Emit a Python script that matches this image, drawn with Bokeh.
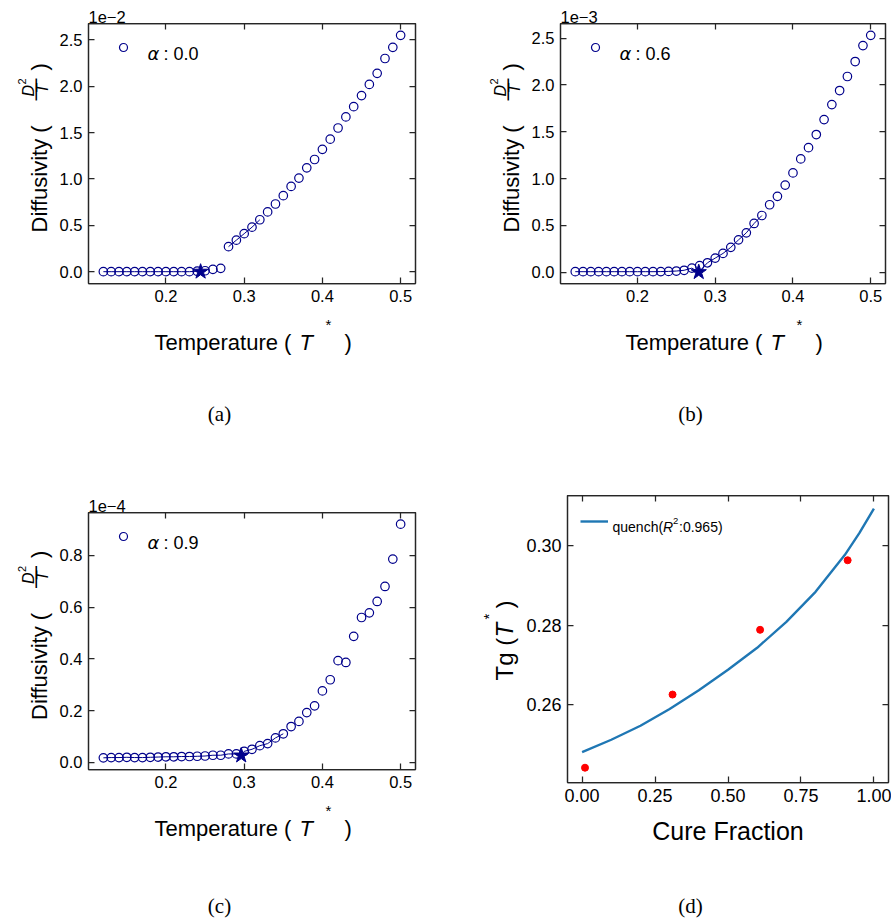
import math
from bokeh.plotting import figure
from bokeh.models import (Label, LinearAxis, FixedTicker, Range1d, Legend, LegendItem,
                          NumeralTickFormatter, CustomJSTickFormatter)
from bokeh.layouts import column, row
from bokeh.embed import file_html
from bokeh.resources import INLINE

# ---------------- data ----------------
temperature = [0.12, 0.13, 0.14, 0.15, 0.16, 0.17, 0.18, 0.19, 0.20, 0.21, 0.22, 0.23, 0.24,
               0.25, 0.26, 0.27, 0.28, 0.29, 0.30, 0.31, 0.32, 0.33, 0.34, 0.35, 0.36, 0.37,
               0.38, 0.39, 0.40, 0.41, 0.42, 0.43, 0.44, 0.45, 0.46, 0.47, 0.48, 0.49, 0.50]
# diffusivity, alpha = 0.0 (units of 1e-2)
diff_a = [0.0, 0.0, 0.0, 0.0, 0.0, 0.0, 0.0, 0.0, 0.0, 0.0, 0.0, 0.0, 0.005,
          0.01, 0.025, 0.036, 0.27, 0.34, 0.41, 0.48, 0.56, 0.645, 0.73, 0.82, 0.92, 1.01,
          1.12, 1.21, 1.32, 1.43, 1.55, 1.67, 1.78, 1.90, 2.02, 2.14, 2.30, 2.42, 2.55]
# diffusivity, alpha = 0.6 (units of 1e-3)
diff_b = [0.005, 0.005, 0.005, 0.005, 0.005, 0.005, 0.005, 0.005, 0.005, 0.005, 0.005, 0.006, 0.008,
          0.012, 0.02, 0.043, 0.07, 0.10, 0.15, 0.20, 0.265, 0.345, 0.42, 0.52, 0.605, 0.72,
          0.81, 0.93, 1.06, 1.21, 1.33, 1.47, 1.63, 1.79, 1.94, 2.09, 2.25, 2.42, 2.53]
# diffusivity, alpha = 0.9 (units of 1e-4)
diff_c = [0.017, 0.018, 0.018, 0.019, 0.018, 0.018, 0.019, 0.020, 0.021, 0.021, 0.022, 0.022, 0.023,
          0.024, 0.027, 0.027, 0.032, 0.032, 0.042, 0.050, 0.064, 0.072, 0.094, 0.110, 0.138, 0.158,
          0.192, 0.218, 0.276, 0.319, 0.393, 0.386, 0.487, 0.560, 0.578, 0.622, 0.680, 0.786, 0.921]
alpha_labels = ["0.0", "0.6", "0.9"]
offset_labels = ["1e\u22122", "1e\u22123", "1e\u22124"]
tg_temp = [0.2443, 0.2788, 0.2962]
tg_diff = [0.0, 0.0, 0.026]
# cure fraction vs Tg
cure_fraction = [0.01, 0.31, 0.61, 0.91]
tg_values = [0.2443, 0.2626, 0.2788, 0.2962]
fit_cure = [0.0, 0.1, 0.2, 0.3, 0.4, 0.5, 0.6, 0.7, 0.8, 0.9, 0.95, 1.0]
fit_tg = [0.2482, 0.2513, 0.2548, 0.2590, 0.2637, 0.2688, 0.2743, 0.2808, 0.2883, 0.2975, 0.3030, 0.3091]
fit_name = "quench("
fit_r2 = ":0.965)"
# ticks
temp_ticks = [0.2, 0.3, 0.4, 0.5]
diff_ticks_ab = [0.0, 0.5, 1.0, 1.5, 2.0, 2.5]
diff_ticks_c = [0.0, 0.2, 0.4, 0.6, 0.8]
cure_ticks = [0.0, 0.25, 0.5, 0.75, 1.0]
tg_ticks = [0.26, 0.28, 0.30]
captions = ["(a)", "(b)", "(c)", "(d)"]

# ---------------- style ----------------
SANS = "Liberation Sans"
SERIF = "Liberation Serif"
AXC = "#262626"
NAVY = "#00008b"
C0 = "#1f77b4"
LAB_FS = 22
A90 = math.pi / 2
ROT_SHIFT = 0.37   # rotated labels are drawn shifted by this many em; compensate


def style_axis(ax, fs, hidden=False):
    ax.major_tick_in = 6
    ax.major_tick_out = 0
    ax.minor_tick_in = 0
    ax.minor_tick_out = 0
    ax.axis_line_color = AXC
    ax.axis_line_width = 1.25
    ax.major_tick_line_color = AXC
    ax.major_tick_line_width = 1.25
    ax.major_label_text_font = SANS
    ax.major_label_text_color = "black"
    if hidden:
        ax.major_label_text_font_size = "0px"
        ax.major_label_standoff = 0
    else:
        ax.major_label_text_font_size = fs
        ax.major_label_standoff = 6


def panel(width, height, lb, rb, tb, bb, xr, yr, xt, yt, xfmt, yfmt, fs, offset_text=None):
    p = figure(width=width, height=height, min_border_left=lb, min_border_right=rb,
               min_border_top=tb, min_border_bottom=bb,
               x_range=Range1d(*xr), y_range=Range1d(*yr), frame_align=False,
               output_backend="svg", toolbar_location=None, tools="")
    p.grid.visible = False
    p.outline_line_color = AXC
    p.outline_line_width = 1.25
    p.xaxis.ticker = FixedTicker(ticks=xt)
    p.yaxis.ticker = FixedTicker(ticks=yt)
    p.xaxis.formatter = NumeralTickFormatter(format=xfmt)
    p.yaxis.formatter = NumeralTickFormatter(format=yfmt)
    top = LinearAxis(ticker=FixedTicker(ticks=xt), formatter=CustomJSTickFormatter(code="return ''"))
    right = LinearAxis(ticker=FixedTicker(ticks=yt), formatter=CustomJSTickFormatter(code="return ''"))
    p.add_layout(top, "above")
    p.add_layout(right, "right")
    for ax in p.xaxis:
        style_axis(ax, fs, hidden=(ax is top))
    for ax in p.yaxis:
        style_axis(ax, fs, hidden=(ax is right))
    if offset_text is not None:
        p.title.text = offset_text
        p.title.align = "left"
        p.title.offset = 0
        p.title.standoff = 2
        p.title.text_font = SANS
        p.title.text_font_size = fs
        p.title.text_font_style = "normal"
        p.title.text_color = "black"
    return p


def mk(x, y, text, size=LAB_FS, style="normal", font=SANS, angle=0.0,
       align="left", baseline="alphabetic"):
    return Label(x=x, y=y, x_units="screen", y_units="screen", text=text,
                 text_font=font, text_font_size=f"{size}px", text_font_style=style,
                 angle=angle, text_align=align, text_baseline=baseline,
                 text_color="black")


def lab_in(p, *args, **kw):
    p.add_layout(mk(*args, **kw))


# text-only figures: their frame is the whole canvas, positions given in page pixels
TEXT_ORIGIN = {}


def text_fig(left, top, width, height):
    f = figure(width=width, height=height, min_border=0, x_range=Range1d(0, 1),
               y_range=Range1d(0, 1), x_axis_type=None, y_axis_type=None, frame_align=False,
               output_backend="svg", toolbar_location=None, tools="")
    f.outline_line_color = None
    TEXT_ORIGIN[f.id] = (left, top + height)
    return f


def tl(f, px, py, text, **kw):
    left, bottom = TEXT_ORIGIN[f.id]
    f.add_layout(mk(px - left, bottom - py, text, **kw))


def tr(f, px, py, text, size=LAB_FS, **kw):
    # vertical text reading upwards; px = baseline x, py = start y
    tl(f, px - ROT_SHIFT * size, py, text, size=size, angle=A90, **kw)


def temp_xlabel(f, cx, base):
    tl(f, cx - 97.5, base, "Temperature (")
    tl(f, cx + 47.5, base, "T", style="italic")
    tl(f, cx + 73.5, base - 18, "*", size=15)
    tl(f, cx + 92.5, base, ")")


def diff_ylabel(f, xb, cy):
    y0 = cy + 79
    tr(f, xb, y0, "Diffusivity (")
    tr(f, xb - 13, y0 - 136, "D", size=16, style="italic")
    tr(f, xb - 21, y0 - 148, "2", size=11)
    tr(f, xb - 4.8, y0 - 132, "\u2014", size=22)
    tr(f, xb + 1, y0 - 139, "T", size=16, style="italic")
    tr(f, xb, y0 - 162, ")")


def diffusivity_main(width, height, lb, rb, tb, bb, ydata, yticks, k, hi_start, hi_end):
    fh = height - tb - bb
    lo_y = min(ydata)
    hi_y = max(ydata)
    pad = (hi_y - lo_y) * 0.05
    p = panel(width, height, lb, rb, tb, bb, (0.101, 0.519), (lo_y - pad, hi_y + pad),
              temp_ticks, yticks, "0.0", "0.0", "16.5px", offset_labels[k])
    n_lo = sum(1 for t in temperature if t < tg_temp[k])
    p.line(temperature[:n_lo] + [tg_temp[k]], ydata[:n_lo] + [tg_diff[k]],
           line_color=NAVY, line_width=1)
    if k == 0:
        hx = temperature[hi_start:hi_end]
        hy = ydata[hi_start:hi_end]
    else:
        hx = [tg_temp[k]] + temperature[hi_start:hi_end]
        hy = [tg_diff[k]] + ydata[hi_start:hi_end]
    p.line(hx, hy, line_color=NAVY, line_width=1)
    r = p.scatter(temperature, ydata, marker="circle", size=8.5, fill_alpha=0,
                  line_color=NAVY, line_width=1.2)
    p.scatter([tg_temp[k]], [tg_diff[k]], marker="star", size=16, fill_color=NAVY,
              line_color=NAVY)
    leg = Legend(items=[LegendItem(label=" ", renderers=[r])], location=(25, fh - 34),
                 padding=0, margin=0, border_line_alpha=0, background_fill_alpha=0,
                 label_text_font_size="1px", label_standoff=0, glyph_width=20, glyph_height=20)
    p.add_layout(leg)
    lab_in(p, 59, fh - 30, "\u03b1", size=18, style="italic", font="DejaVu Sans")
    lab_in(p, 75, fh - 30, ": " + alpha_labels[k], size=18)
    return p


# ---------------- cell (a) ----------------
ylab_a = text_fig(0, 0, 53, 461)
diff_ylabel(ylab_a, 47, 153)
main_a = diffusivity_main(393, 315, 35, 31, 23, 32, diff_a, diff_ticks_ab, 0, 16, 21)
bot_a = text_fig(53, 315, 393, 146)
temp_xlabel(bot_a, 251.5, 341.7)
tl(bot_a, 219, 413, captions[0], size=21, font=SERIF, align="center", baseline="middle")
cell_a = row(ylab_a, column(main_a, bot_a))

# ---------------- cell (b) ----------------
ylab_b = text_fig(446, 0, 80, 461)
diff_ylabel(ylab_b, 519, 153)
main_b = diffusivity_main(365, 315, 34, 6, 23, 32, diff_b, diff_ticks_ab, 1, 17, 25)
bot_b = text_fig(526, 315, 365, 146)
temp_xlabel(bot_b, 722.5, 341.7)
tl(bot_b, 690, 413, captions[1], size=21, font=SERIF, align="center", baseline="middle")
cell_b = row(ylab_b, column(main_b, bot_b))

# ---------------- cell (c) ----------------
ylab_c = text_fig(0, 461, 53, 460)
diff_ylabel(ylab_c, 47, 640.5)
main_c = diffusivity_main(393, 340, 35, 31, 51, 32, diff_c, diff_ticks_c, 2, 18, 24)
bot_c = text_fig(53, 801, 393, 120)
temp_xlabel(bot_c, 251.5, 827.7)
tl(bot_c, 219, 905, captions[2], size=21, font=SERIF, align="center", baseline="middle")
cell_c = row(ylab_c, column(main_c, bot_c))

# ---------------- cell (d) ----------------
ylab_d = text_fig(446, 461, 76, 460)
tr(ylab_d, 513, 680, "Tg (", size=24)
tr(ylab_d, 513, 637, "T", size=24, style="italic")
tr(ylab_d, 494, 619, "*", size=15)
tr(ylab_d, 513, 608, ")", size=24)

W, H, LB, RB, TB, BB = 369, 353, 45, 3, 34, 32
fhd = H - TB - BB
main_d = panel(W, H, LB, RB, TB, BB, (-0.05, 1.05), (0.2406, 0.3124), cure_ticks, tg_ticks,
               "0.00", "0.00", "18px")
rl = main_d.line(fit_cure, fit_tg, line_color=C0, line_width=2.4)
main_d.scatter(cure_fraction, tg_values, marker="circle", size=7, fill_color="red", line_color="red")
legd = Legend(items=[LegendItem(label=" ", renderers=[rl])], location=(13, fhd - 36),
              padding=0, margin=0, border_line_alpha=0, background_fill_alpha=0,
              label_text_font_size="1px", label_standoff=0, glyph_width=28, glyph_height=20)
main_d.add_layout(legd)
lab_in(main_d, 45, fhd - 31, fit_name, size=14)
lab_in(main_d, 95.5, fhd - 31, "R", size=14, style="italic")
lab_in(main_d, 105.5, fhd - 25, "2", size=9.5)
lab_in(main_d, 111.5, fhd - 31, fit_r2, size=14)
bot_d = text_fig(522, 814, 369, 107)
tl(bot_d, 727.5, 830, "Cure Fraction", size=25, align="center")
tl(bot_d, 690, 905, captions[3], size=21, font=SERIF, align="center", baseline="middle")
cell_d = row(ylab_d, column(main_d, bot_d))

layout = column(row(cell_a, cell_b), row(cell_c, cell_d))
open("out.html", "w").write(file_html(layout, INLINE))
